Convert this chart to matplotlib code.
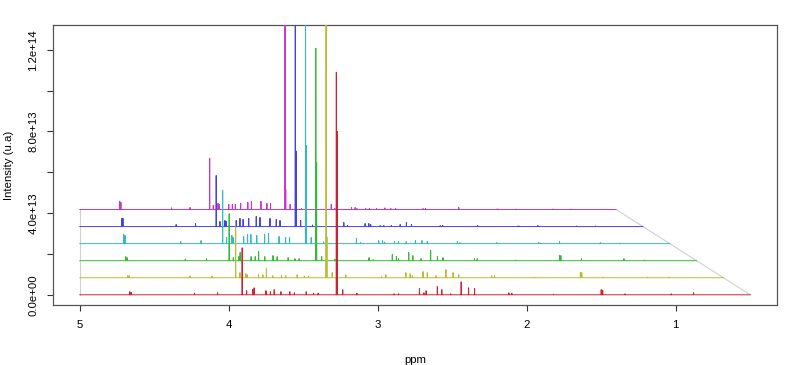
import numpy as np
import matplotlib
matplotlib.use('Agg')
import matplotlib.pyplot as plt

plt.rcParams['font.family'] = ['Liberation Sans', 'DejaVu Sans']

# posiciones de los picos (ppm), comunes a los 6 espectros
peaks_ppm = [4.665, 4.655, 4.23, 4.075, 3.91, 3.88, 3.84, 3.83, 3.75, 3.72,
             3.695, 3.65, 3.59, 3.56, 3.48, 3.43, 3.40, 3.278, 3.272, 3.235,
             3.14, 2.89, 2.86, 2.72, 2.69, 2.675, 2.60, 2.57, 2.51, 2.44,
             2.39, 2.35, 2.12, 2.10, 1.82, 1.50, 1.49, 1.34, 1.03, 0.88]

# alturas en unidades de 1e12 (de abajo hacia arriba)
h_red = [1.5, 1.2, 0.8, 1.0, 23, 2.0, 2.5, 3.4, 2.0, 1.5,
         2.5, 1.5, 1.5, 1.0, 1.5, 0.8, 0.8, 109, 80, 2.5,
         0.8, 0.5, 0.5, 3.0, 1.0, 2.0, 4.0, 2.5, 0.5, 6.3,
         3.4, 3.0, 1.0, 0.8, 0.3, 2.5, 2.2, 0.5, 0.5, 1.0]
h_yellow = [1.0, 1.0, 0.8, 0.8, 25, 2.5, 2.0, 1.5, 1.5, 1.5,
            4.4, 1.0, 1.0, 1.0, 1.5, 0.8, 0.8, 150, 20, 2.5,
            1.5, 0.5, 1.5, 2.5, 2.0, 1.0, 3.0, 2.5, 1.0, 4.0,
            2.5, 1.5, 1.0, 1.0, 0.3, 2.5, 2.5, 0.3, 0.3, 0.3]
h_green = [2.0, 1.5, 0.8, 1.0, 23, 1.5, 2.0, 4.0, 2.0, 2.0,
           4.5, 2.0, 2.5, 2.0, 1.5, 1.0, 1.0, 104, 48, 2.0,
           0.8, 1.5, 0.5, 3.0, 2.0, 1.0, 4.0, 2.5, 1.0, 5.0,
           2.0, 1.5, 1.0, 1.0, 0.3, 2.5, 2.5, 1.0, 1.0, 0.3]
h_cyan = [4.4, 4.0, 1.0, 1.5, 26, 3.0, 4.0, 3.0, 3.5, 4.5,
          4.5, 4.0, 4.5, 5.0, 3.5, 3.0, 3.0, 150, 48, 3.0,
          0.8, 2.5, 0.5, 1.5, 1.5, 0.8, 1.0, 1.0, 1.0, 1.5,
          1.5, 1.0, 1.0, 0.5, 0.5, 0.5, 0.3, 1.0, 0.5, 0.3]
h_blue = [4.0, 4.0, 1.0, 1.5, 25, 2.5, 3.0, 2.5, 3.0, 4.0,
          3.5, 4.0, 5.0, 4.5, 4.0, 3.5, 3.0, 150, 37, 3.0,
          0.8, 2.0, 0.5, 1.5, 1.5, 1.0, 0.5, 0.5, 0.5, 1.0,
          2.0, 1.0, 0.5, 0.5, 0.5, 0.3, 0.3, 0.5, 0.3, 0.3]
h_magenta = [4.0, 3.5, 0.8, 1.0, 25, 2.0, 3.0, 2.5, 2.5, 2.5,
             2.5, 3.0, 3.5, 4.0, 4.0, 3.0, 3.0, 150, 10, 2.5,
             0.5, 2.5, 0.5, 1.0, 1.0, 0.5, 0.5, 0.5, 0.5, 0.8,
             0.5, 0.5, 0.5, 0.5, 1.0, 0.3, 0.3, 0.3, 0.3, 0.3]

heights = [h_red, h_yellow, h_green, h_cyan, h_blue, h_magenta]
colors = ['#CC2233', '#BBBB33', '#33BB33', '#33BBBB', '#4444DD', '#CC33CC']

ppm_start, ppm_end = 5.0, 0.5
offset = 8.35e12      # desplazamiento vertical entre espectros
shrink = 0.04         # compresion horizontal por espectro
half_w = 0.0012


def spectrum_line(ppm, h):
    xs = [ppm_start]
    ys = [0.0]
    for p, v in sorted(zip(ppm, h), reverse=True):
        xs += [p + half_w, p, p - half_w]
        ys += [0.0, v * 1e12, 0.0]
    xs.append(ppm_end)
    ys.append(0.0)
    return np.array(xs), np.array(ys)


fig = plt.figure(figsize=(7.87, 3.65), dpi=100)
ax = fig.add_axes([0.0673, 0.1644, 0.92, 0.7671])

n = len(heights)
# lineas grises de la "perspectiva"
ax.plot([ppm_start, ppm_start], [0, (n - 1) * offset], color='#D0D0D0', lw=0.8, zorder=1)
ax.plot([ppm_end, ppm_start - (ppm_start - ppm_end) * (1 - shrink * (n - 1))],
        [0, (n - 1) * offset], color='#D0D0D0', lw=0.8, zorder=1)

for k in reversed(range(n)):
    x, y = spectrum_line(peaks_ppm, heights[k])
    xk = ppm_start - (ppm_start - x) * (1 - shrink * k)
    ax.plot(xk, y + k * offset, color=colors[k], lw=0.7, zorder=2 + (n - k))

ax.set_xlim(5.18, 0.32)
ax.set_ylim(-5.0e12, 1.321e14)

ax.set_xticks([5, 4, 3, 2, 1])
ax.set_xticklabels(['5', '4', '3', '2', '1'])
yt = [0, 2e13, 4e13, 6e13, 8e13, 1e14, 1.2e14]
ax.set_yticks(yt)
ax.set_yticklabels(['0.0e+00', '', '4.0e+13', '', '8.0e+13', '', '1.2e+14'],
                   rotation=90, va='center')
ax.tick_params(axis='both', labelsize=8.2, length=4.5, width=0.8, pad=6, color='#333333')

for s in ax.spines.values():
    s.set_color('#555555')
    s.set_linewidth(0.9)

ax.set_xlabel('ppm', fontsize=8.2, labelpad=18)
ax.set_ylabel('Intensity (u.a)', fontsize=8.2, labelpad=10)

fig.savefig('out.png', dpi=100)
